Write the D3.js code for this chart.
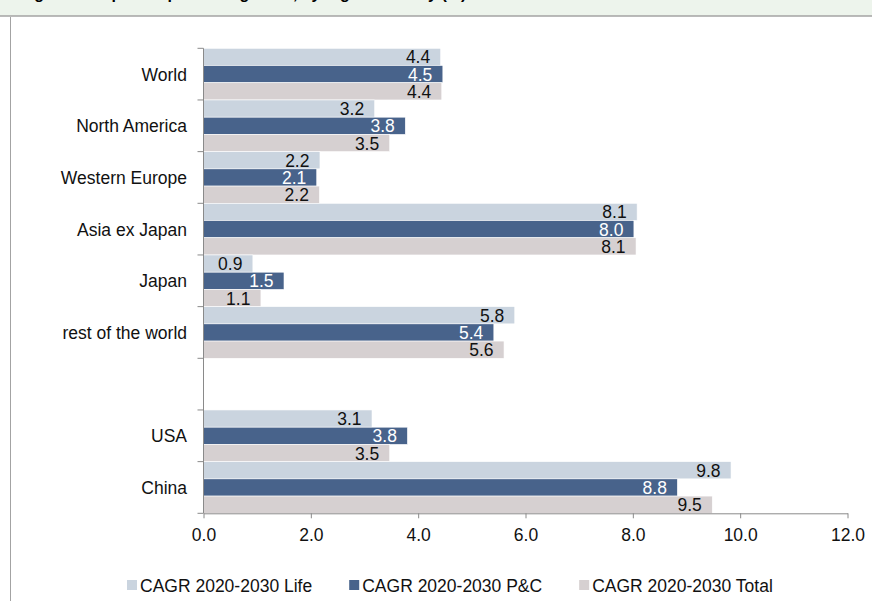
<!DOCTYPE html>
<html>
<head>
<meta charset="utf-8">
<script src="https://cdn.jsdelivr.net/npm/d3@7"></script>
<style>
  html, body { margin: 0; padding: 0; background: #fff; }
  svg { display: block; font-family: "Liberation Sans", Arial, sans-serif; }
</style>
</head>
<body>
<svg id="chart" width="872" height="601"></svg>
<script>
// ---- data ----
const titleText = "Figure 4: Expected premium growth, by region/country (%)";
const categories = ["World", "North America", "Western Europe", "Asia ex Japan", "Japan", "rest of the world", "", "USA", "China"];
const seriesNames = ["CAGR 2020-2030 Life", "CAGR 2020-2030 P&C", "CAGR 2020-2030 Total"];
const lifeValues  = [4.42, 3.19, 2.17, 8.08, 0.92, 5.80, null, 3.14, 9.83];
const pcValues    = [4.46, 3.76, 2.11, 8.02, 1.50, 5.41, null, 3.80, 8.83];
const totalValues = [4.44, 3.47, 2.16, 8.06, 1.07, 5.60, null, 3.47, 9.48];
const xTicks = [0, 2, 4, 6, 8, 10, 12];

const seriesValues = [lifeValues, pcValues, totalValues];
const colors = ["#cad4df", "#48638b", "#d6d0d1"];
const labelColors = ["#111", "#ffffff", "#111"];

const svg = d3.select("#chart");
const W = 872, H = 601;
const FS = 17.5;

// header band
svg.append("rect").attr("x", 0).attr("y", 0).attr("width", W).attr("height", 16).attr("fill", "#edf4ec");
svg.append("text").attr("x", 20).attr("y", -1.5).attr("font-weight", "bold").attr("font-size", 16)
  .attr("fill", "#000").text(titleText);
svg.append("line").attr("x1", 0).attr("x2", W).attr("y1", 16).attr("y2", 16)
  .attr("stroke", "#a3a3a3").attr("stroke-width", 1.6);
svg.append("line").attr("x1", 10.5).attr("x2", 10.5).attr("y1", 17).attr("y2", H)
  .attr("stroke", "#a3a3a3").attr("stroke-width", 1);

// scales
const x = d3.scaleLinear().domain([0, 12]).range([203.5, 847.5]);
const y = d3.scaleBand().domain(categories).range([48.3, 513.3]).paddingInner(0).paddingOuter(0);
const inner = d3.scaleBand().domain(d3.range(seriesNames.length)).range([0, y.bandwidth()]).padding(0);

// bars
const rows = [];
categories.forEach((c, i) => {
  seriesValues.forEach((arr, s) => {
    if (arr[i] != null) rows.push({ cat: c, s: s, v: arr[i] });
  });
});

const g = svg.append("g");
g.selectAll("rect.bar").data(rows).enter().append("rect")
  .attr("class", "bar")
  .attr("x", x(0))
  .attr("y", d => y(d.cat) + inner(d.s))
  .attr("width", d => x(d.v) - x(0))
  .attr("height", inner.bandwidth())
  .attr("fill", d => colors[d.s])
  .attr("stroke", "#ffffff")
  .attr("stroke-width", 0.6);

g.selectAll("text.val").data(rows).enter().append("text")
  .attr("class", "val")
  .attr("x", d => x(d.v) - 10.5)
  .attr("y", d => y(d.cat) + inner(d.s) + inner.bandwidth() / 2 + 6.5)
  .attr("text-anchor", "end")
  .attr("font-size", FS)
  .attr("fill", d => labelColors[d.s])
  .text(d => d.v.toFixed(1));

// y axis
const axisColor = "#8a8a8a";
svg.append("line").attr("x1", x(0)).attr("x2", x(0)).attr("y1", y.range()[0]).attr("y2", y.range()[1])
  .attr("stroke", axisColor).attr("stroke-width", 1);
const boundaries = categories.map(c => y(c)).concat([y.range()[1]]);
svg.selectAll("line.ytick").data(boundaries).enter().append("line")
  .attr("class", "ytick")
  .attr("x1", x(0) - 6).attr("x2", x(0))
  .attr("y1", d => d).attr("y2", d => d)
  .attr("stroke", axisColor).attr("stroke-width", 1);
svg.selectAll("text.cat").data(categories).enter().append("text")
  .attr("class", "cat")
  .attr("x", 187)
  .attr("y", d => y(d) + y.bandwidth() / 2 + 6.5)
  .attr("text-anchor", "end")
  .attr("font-size", FS)
  .attr("fill", "#111")
  .text(d => d);

// x axis
const xAxis = d3.axisBottom(x).tickValues(xTicks).tickFormat(d3.format(".1f")).tickSize(5).tickSizeOuter(0);
const xg = svg.append("g").attr("transform", `translate(0,${y.range()[1]})`).call(xAxis);
xg.select(".domain").attr("stroke", axisColor);
xg.selectAll(".tick line").attr("stroke", axisColor);
xg.selectAll(".tick text").attr("y", 15.5).attr("font-size", FS).attr("fill", "#111")
  .attr("font-family", "Liberation Sans, Arial, sans-serif");

// legend
const legend = svg.append("g");
let lx = 127;
seriesNames.forEach((name, s) => {
  legend.append("rect").attr("x", lx).attr("y", 580).attr("width", 10).attr("height", 10).attr("fill", colors[s]);
  const t = legend.append("text").attr("x", lx + 13).attr("y", 592).attr("font-size", 17.5)
    .attr("fill", "#111").text(name);
  const w = t.node().getComputedTextLength();
  lx = lx + 13 + w + 37;
});
</script>
</body>
</html>
